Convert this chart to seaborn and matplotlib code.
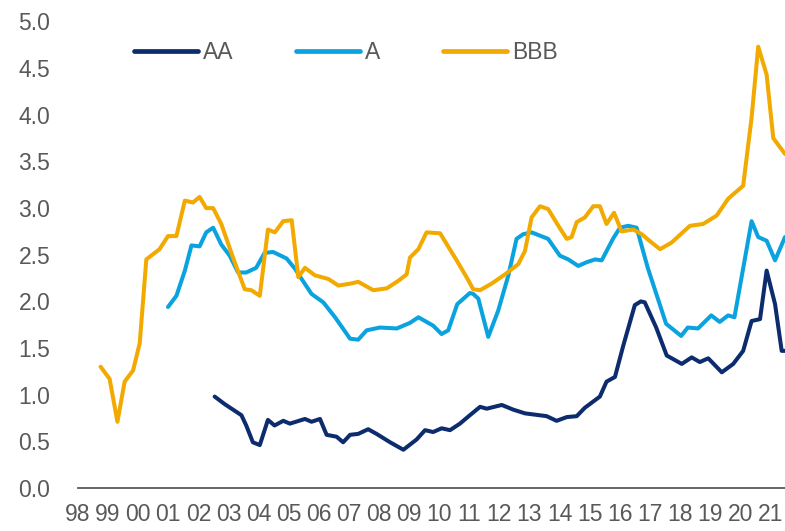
import numpy as np
import pandas as pd
import matplotlib
matplotlib.use("Agg")
import matplotlib.pyplot as plt
import seaborn as sns

# series (fractional year, value)
bbb_t = [1998.75, 1999.05, 1999.31, 1999.55, 1999.83, 2000.05, 2000.27, 2000.71, 2000.99, 2001.27,
         2001.55, 2001.82, 2002.04, 2002.26, 2002.49, 2002.76, 2003.15, 2003.54, 2003.76, 2004.04,
         2004.31, 2004.54, 2004.82, 2005.10, 2005.32, 2005.54, 2005.87, 2006.32, 2006.65, 2007.04,
         2007.31, 2007.81, 2008.26, 2008.64, 2008.92, 2009.03, 2009.31, 2009.58, 2010.03, 2010.58,
         2010.91, 2011.13, 2011.36, 2011.74, 2012.19, 2012.63, 2012.85, 2013.07, 2013.35, 2013.62,
         2013.96, 2014.24, 2014.40, 2014.57, 2014.84, 2015.12, 2015.34, 2015.56, 2015.81, 2016.06,
         2016.45, 2016.73, 2017.06, 2017.34, 2017.72, 2018.33, 2018.77, 2019.22, 2019.60, 2020.10,
         2020.38, 2020.60, 2020.88, 2021.10, 2021.49]
bbb_v = [1.30, 1.17, 0.71, 1.14, 1.26, 1.55, 2.45, 2.56, 2.70, 2.70,
         3.08, 3.06, 3.12, 3.00, 3.00, 2.83, 2.47, 2.13, 2.12, 2.06,
         2.77, 2.74, 2.86, 2.87, 2.26, 2.36, 2.28, 2.24, 2.17, 2.19,
         2.21, 2.12, 2.14, 2.22, 2.29, 2.47, 2.56, 2.74, 2.73, 2.44,
         2.26, 2.13, 2.12, 2.19, 2.29, 2.40, 2.54, 2.90, 3.02, 2.99,
         2.81, 2.67, 2.69, 2.85, 2.90, 3.02, 3.02, 2.83, 2.95, 2.75,
         2.77, 2.72, 2.63, 2.56, 2.63, 2.81, 2.83, 2.92, 3.10, 3.24,
         3.97, 4.73, 4.43, 3.75, 3.58]

a_t = [2000.99, 2001.27, 2001.55, 2001.77, 2002.04, 2002.26, 2002.49, 2002.76, 2003.04, 2003.32,
       2003.59, 2003.92, 2004.20, 2004.48, 2004.93, 2005.21, 2005.43, 2005.76, 2006.15, 2006.54,
       2007.04, 2007.31, 2007.59, 2008.03, 2008.59, 2009.03, 2009.31, 2009.80, 2010.08, 2010.30,
       2010.60, 2011.02, 2011.13, 2011.30, 2011.63, 2011.96, 2012.30, 2012.57, 2012.79, 2013.07,
       2013.62, 2014.01, 2014.29, 2014.62, 2014.90, 2015.18, 2015.40, 2015.79, 2016.01, 2016.28,
       2016.56, 2016.93, 2017.54, 2018.04, 2018.26, 2018.60, 2019.04, 2019.32, 2019.60, 2019.81,
       2020.38, 2020.60, 2020.88, 2021.16, 2021.49]
a_v = [1.94, 2.06, 2.33, 2.60, 2.59, 2.74, 2.79, 2.61, 2.49, 2.31,
       2.31, 2.36, 2.52, 2.53, 2.46, 2.35, 2.24, 2.08, 1.99, 1.83,
       1.60, 1.59, 1.69, 1.72, 1.71, 1.77, 1.83, 1.74, 1.65, 1.69,
       1.97, 2.09, 2.08, 2.03, 1.62, 1.90, 2.28, 2.67, 2.72, 2.74,
       2.67, 2.49, 2.45, 2.38, 2.42, 2.45, 2.44, 2.68, 2.79, 2.81,
       2.79, 2.36, 1.76, 1.63, 1.72, 1.71, 1.85, 1.78, 1.85, 1.83,
       2.86, 2.69, 2.65, 2.44, 2.69]

aa_t = [2002.54, 2002.87, 2003.43, 2003.59, 2003.81, 2004.04, 2004.31, 2004.53, 2004.82, 2005.04,
        2005.54, 2005.76, 2006.04, 2006.26, 2006.59, 2006.81, 2007.04, 2007.31, 2007.64, 2007.92,
        2008.37, 2008.81, 2009.25, 2009.53, 2009.80, 2010.08, 2010.36, 2010.69, 2011.02, 2011.36,
        2011.58, 2012.08, 2012.46, 2012.85, 2013.57, 2013.90, 2014.24, 2014.57, 2014.84, 2015.34,
        2015.56, 2015.84, 2016.12, 2016.50, 2016.70, 2016.83, 2017.21, 2017.56, 2018.06, 2018.39,
        2018.66, 2018.94, 2019.39, 2019.77, 2020.10, 2020.38, 2020.66, 2020.88, 2021.16, 2021.38,
        2021.49]
aa_v = [0.98, 0.90, 0.78, 0.67, 0.49, 0.46, 0.73, 0.67, 0.72, 0.69,
        0.74, 0.71, 0.74, 0.57, 0.55, 0.49, 0.57, 0.58, 0.63, 0.58,
        0.49, 0.41, 0.52, 0.62, 0.60, 0.64, 0.62, 0.69, 0.78, 0.87,
        0.85, 0.89, 0.84, 0.80, 0.77, 0.72, 0.76, 0.77, 0.86, 0.98,
        1.14, 1.19, 1.53, 1.96, 2.00, 1.99, 1.72, 1.42, 1.33, 1.40,
        1.35, 1.39, 1.24, 1.33, 1.47, 1.79, 1.81, 2.33, 1.97, 1.47,
        1.47]

years = list(range(1998, 2022))
year_labels = [str(y)[2:] for y in years]

colors = {'AA': '#0C2C6E', 'A': '#0AA3DF', 'BBB': '#F2A900'}
txt = '#595959'

sns.set_style('white')
plt.rcParams['font.family'] = ['Liberation Sans', 'DejaVu Sans']

fig = plt.figure(figsize=(7.85, 5.31), dpi=100)
ax = fig.add_axes([78 / 785, 43 / 531, 707 / 785, (488 - 21.5) / 531])

for name, t, v in [('AA', aa_t, aa_v), ('A', a_t, a_v), ('BBB', bbb_t, bbb_v)]:
    sns.lineplot(x=t, y=v, ax=ax, color=colors[name], linewidth=2.9, label=name,
                 sort=False, estimator=None)

ax.set_xlim(1998, 2021.49)
ax.set_ylim(0, 5)
ax.set_yticks(np.arange(0, 5.01, 0.5))
ax.set_yticklabels([f'{v:.1f}' for v in np.arange(0, 5.01, 0.5)])
ax.set_xticks(years)
ax.set_xticklabels(year_labels)
ax.tick_params(axis='both', length=0, labelsize=16.5, labelcolor=txt)
ax.tick_params(axis='y', pad=20)
ax.tick_params(axis='x', pad=11)
for s in ['left', 'right', 'top']:
    ax.spines[s].set_visible(False)
ax.spines['bottom'].set_color('#595959')
ax.spines['bottom'].set_linewidth(1.3)
ax.set_xlabel('')
ax.set_ylabel('')

leg = ax.legend(loc='upper left', bbox_to_anchor=(134 / 785, 1 - 41 / 531),
                bbox_transform=fig.transFigure, ncol=3, frameon=False,
                fontsize=16.5, handlelength=2.8, handletextpad=0.2,
                columnspacing=2.75, borderpad=0, borderaxespad=0)
for h in leg.get_lines():
    h.set_linewidth(3.4)
for t in leg.get_texts():
    t.set_color(txt)

plt.savefig('out.png', dpi=100)
